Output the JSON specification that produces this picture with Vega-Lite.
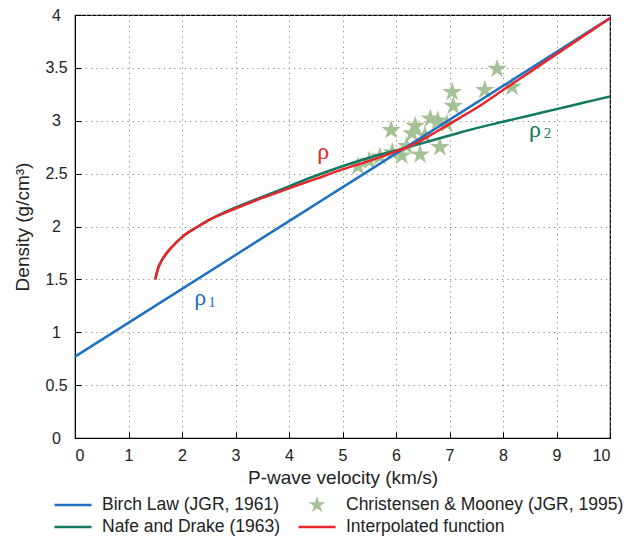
{
  "$schema": "https://vega.github.io/schema/vega-lite/v6.json",
  "width": 535,
  "height": 423,
  "autosize": {"type": "none"},
  "padding": {"left": 75, "top": 15, "right": 17, "bottom": 98},
  "background": "white",
  "config": {
    "view": {"stroke": "black", "strokeWidth": 1.2},
    "axis": {
      "labelFont": "Liberation Sans",
      "labelFontSize": 16,
      "labelColor": "#222",
      "titleFont": "Liberation Sans",
      "titleFontSize": 19,
      "titleFontWeight": "normal",
      "titleColor": "#222",
      "domainColor": "black",
      "tickColor": "black",
      "tickSize": -6,
      "gridColor": "#888",
      "gridDash": [1.2, 4],
      "gridWidth": 1
    },
    "legend": {
      "labelFont": "Liberation Sans", "labelFontSize": 17.5, "labelColor": "#222",
      "orient": "none", "legendX": -22, "legendY": 480, "columns": 2, "direction": "horizontal",
      "columnPadding": 16, "rowPadding": 2, "symbolSize": 1369, "symbolStrokeWidth": 2.5, "labelOffset": 9, "clipHeight": 20, "labelLimit": 400
    }
  },
  "datasets": {
    "birch": [
      {"vp": 0, "rho": 0.77, "series": "Birch Law (JGR, 1961)"},
      {"vp": 10, "rho": 3.97, "series": "Birch Law (JGR, 1961)"}
    ],
    "nafe": [
      {"vp": 1.5, "rho": 1.5, "series": "Nafe and Drake (1963)"},
      {"vp": 1.55, "rho": 1.6, "series": "Nafe and Drake (1963)"},
      {"vp": 1.6, "rho": 1.66, "series": "Nafe and Drake (1963)"},
      {"vp": 1.7, "rho": 1.74, "series": "Nafe and Drake (1963)"},
      {"vp": 1.8, "rho": 1.8, "series": "Nafe and Drake (1963)"},
      {"vp": 2.0, "rho": 1.9, "series": "Nafe and Drake (1963)"},
      {"vp": 2.3, "rho": 2.0, "series": "Nafe and Drake (1963)"},
      {"vp": 2.5, "rho": 2.06, "series": "Nafe and Drake (1963)"},
      {"vp": 3.0, "rho": 2.18, "series": "Nafe and Drake (1963)"},
      {"vp": 3.5, "rho": 2.28, "series": "Nafe and Drake (1963)"},
      {"vp": 4.0, "rho": 2.38, "series": "Nafe and Drake (1963)"},
      {"vp": 4.5, "rho": 2.48, "series": "Nafe and Drake (1963)"},
      {"vp": 5.0, "rho": 2.57, "series": "Nafe and Drake (1963)"},
      {"vp": 5.5, "rho": 2.65, "series": "Nafe and Drake (1963)"},
      {"vp": 6.0, "rho": 2.72, "series": "Nafe and Drake (1963)"},
      {"vp": 6.5, "rho": 2.79, "series": "Nafe and Drake (1963)"},
      {"vp": 7.0, "rho": 2.86, "series": "Nafe and Drake (1963)"},
      {"vp": 7.5, "rho": 2.93, "series": "Nafe and Drake (1963)"},
      {"vp": 8.0, "rho": 2.99, "series": "Nafe and Drake (1963)"},
      {"vp": 8.5, "rho": 3.05, "series": "Nafe and Drake (1963)"},
      {"vp": 9.0, "rho": 3.11, "series": "Nafe and Drake (1963)"},
      {"vp": 9.5, "rho": 3.17, "series": "Nafe and Drake (1963)"},
      {"vp": 10.0, "rho": 3.23, "series": "Nafe and Drake (1963)"}
    ],
    "interp": [
      {"vp": 1.5, "rho": 1.5, "series": "Interpolated function"},
      {"vp": 1.55, "rho": 1.6, "series": "Interpolated function"},
      {"vp": 1.6, "rho": 1.66, "series": "Interpolated function"},
      {"vp": 1.7, "rho": 1.74, "series": "Interpolated function"},
      {"vp": 1.8, "rho": 1.8, "series": "Interpolated function"},
      {"vp": 2.0, "rho": 1.9, "series": "Interpolated function"},
      {"vp": 2.3, "rho": 2.0, "series": "Interpolated function"},
      {"vp": 2.5, "rho": 2.06, "series": "Interpolated function"},
      {"vp": 3.0, "rho": 2.17, "series": "Interpolated function"},
      {"vp": 3.5, "rho": 2.27, "series": "Interpolated function"},
      {"vp": 4.0, "rho": 2.36, "series": "Interpolated function"},
      {"vp": 4.5, "rho": 2.45, "series": "Interpolated function"},
      {"vp": 5.0, "rho": 2.54, "series": "Interpolated function"},
      {"vp": 5.5, "rho": 2.62, "series": "Interpolated function"},
      {"vp": 6.0, "rho": 2.71, "series": "Interpolated function"},
      {"vp": 6.3, "rho": 2.77, "series": "Interpolated function"},
      {"vp": 6.6, "rho": 2.85, "series": "Interpolated function"},
      {"vp": 6.9, "rho": 2.94, "series": "Interpolated function"},
      {"vp": 7.2, "rho": 3.03, "series": "Interpolated function"},
      {"vp": 7.5, "rho": 3.12, "series": "Interpolated function"},
      {"vp": 8.0, "rho": 3.29, "series": "Interpolated function"},
      {"vp": 8.5, "rho": 3.46, "series": "Interpolated function"},
      {"vp": 9.0, "rho": 3.63, "series": "Interpolated function"},
      {"vp": 9.5, "rho": 3.80, "series": "Interpolated function"},
      {"vp": 10.0, "rho": 3.97, "series": "Interpolated function"}
    ],
    "stars": [
      {"vp": 5.29, "rho": 2.57, "series": "Christensen & Mooney (JGR, 1995)"},
      {"vp": 5.5, "rho": 2.62, "series": "Christensen & Mooney (JGR, 1995)"},
      {"vp": 5.7, "rho": 2.66, "series": "Christensen & Mooney (JGR, 1995)"},
      {"vp": 5.91, "rho": 2.91, "series": "Christensen & Mooney (JGR, 1995)"},
      {"vp": 5.93, "rho": 2.70, "series": "Christensen & Mooney (JGR, 1995)"},
      {"vp": 6.11, "rho": 2.67, "series": "Christensen & Mooney (JGR, 1995)"},
      {"vp": 6.2, "rho": 2.76, "series": "Christensen & Mooney (JGR, 1995)"},
      {"vp": 6.3, "rho": 2.88, "series": "Christensen & Mooney (JGR, 1995)"},
      {"vp": 6.36, "rho": 2.95, "series": "Christensen & Mooney (JGR, 1995)"},
      {"vp": 6.45, "rho": 2.68, "series": "Christensen & Mooney (JGR, 1995)"},
      {"vp": 6.54, "rho": 2.86, "series": "Christensen & Mooney (JGR, 1995)"},
      {"vp": 6.64, "rho": 3.02, "series": "Christensen & Mooney (JGR, 1995)"},
      {"vp": 6.82, "rho": 2.75, "series": "Christensen & Mooney (JGR, 1995)"},
      {"vp": 6.78, "rho": 3.0, "series": "Christensen & Mooney (JGR, 1995)"},
      {"vp": 6.95, "rho": 2.97, "series": "Christensen & Mooney (JGR, 1995)"},
      {"vp": 7.05, "rho": 3.27, "series": "Christensen & Mooney (JGR, 1995)"},
      {"vp": 7.07, "rho": 3.14, "series": "Christensen & Mooney (JGR, 1995)"},
      {"vp": 7.66, "rho": 3.29, "series": "Christensen & Mooney (JGR, 1995)"},
      {"vp": 7.89, "rho": 3.49, "series": "Christensen & Mooney (JGR, 1995)"},
      {"vp": 8.17, "rho": 3.32, "series": "Christensen & Mooney (JGR, 1995)"}
    ]
  },
  "encoding": {
    "x": {
      "field": "vp", "type": "quantitative",
      "scale": {"domain": [0, 10], "nice": false},
      "axis": {"title": "P-wave velocity (km/s)", "values": [0,1,2,3,4,5,6,7,8,9,10], "labelPadding": 15, "titlePadding": 5}
    },
    "y": {
      "field": "rho", "type": "quantitative",
      "scale": {"domain": [0, 4], "nice": false},
      "axis": {"title": "Density (g/cm³)", "values": [0,0.5,1,1.5,2,2.5,3,3.5,4], "format": "~g", "labelAlign": "center", "labelPadding": 25, "titlePadding": 12}
    }
  },
  "layer": [
    {
      "data": {"name": "stars"},
      "mark": {"type": "point", "filled": true, "opacity": 1, "size": 420},
      "encoding": {
        "color": {
          "field": "series", "type": "nominal",
          "scale": {"domain": ["Birch Law (JGR, 1961)", "Christensen & Mooney (JGR, 1995)", "Nafe and Drake (1963)", "Interpolated function"],
                    "range": ["#1f70c1", "#a5c196", "#0f7a5f", "#e8262b"]},
          "legend": {"title": null, "encode": {"symbols": {"update": {"size": {"signal": "datum.value === 'Christensen & Mooney (JGR, 1995)' ? 90 : 1369"}}}}}
        },
        "shape": {
          "field": "series", "type": "nominal",
          "scale": {"domain": ["Birch Law (JGR, 1961)", "Christensen & Mooney (JGR, 1995)", "Nafe and Drake (1963)", "Interpolated function"],
                    "range": ["stroke", "M0,-1L0.2245,-0.309L0.951,-0.309L0.363,0.118L0.588,0.809L0,0.382L-0.588,0.809L-0.363,0.118L-0.951,-0.309L-0.2245,-0.309Z", "stroke", "stroke"]},
          "legend": {"title": null, "encode": {"symbols": {"update": {"size": {"signal": "datum.value === 'Christensen & Mooney (JGR, 1995)' ? 90 : 1369"}}}}}
        }
      }
    },
    {
      "data": {"name": "birch"},
      "mark": {"type": "line", "strokeWidth": 2.5},
      "encoding": {"color": {"field": "series", "type": "nominal",
        "scale": {"domain": ["Birch Law (JGR, 1961)", "Christensen & Mooney (JGR, 1995)", "Nafe and Drake (1963)", "Interpolated function"],
                  "range": ["#1f70c1", "#a5c196", "#0f7a5f", "#e8262b"]},
        "legend": {"title": null, "encode": {"symbols": {"update": {"size": {"signal": "datum.value === 'Christensen & Mooney (JGR, 1995)' ? 90 : 1369"}}}}}}}
    },
    {
      "data": {"name": "nafe"},
      "mark": {"type": "line", "strokeWidth": 2.5, "interpolate": "monotone"},
      "encoding": {"color": {"field": "series", "type": "nominal",
        "scale": {"domain": ["Birch Law (JGR, 1961)", "Christensen & Mooney (JGR, 1995)", "Nafe and Drake (1963)", "Interpolated function"],
                  "range": ["#1f70c1", "#a5c196", "#0f7a5f", "#e8262b"]},
        "legend": {"title": null, "encode": {"symbols": {"update": {"size": {"signal": "datum.value === 'Christensen & Mooney (JGR, 1995)' ? 90 : 1369"}}}}}}}
    },
    {
      "data": {"name": "interp"},
      "mark": {"type": "line", "strokeWidth": 2.5, "interpolate": "monotone"},
      "encoding": {"color": {"field": "series", "type": "nominal",
        "scale": {"domain": ["Birch Law (JGR, 1961)", "Christensen & Mooney (JGR, 1995)", "Nafe and Drake (1963)", "Interpolated function"],
                  "range": ["#1f70c1", "#a5c196", "#0f7a5f", "#e8262b"]},
        "legend": {"title": null, "encode": {"symbols": {"update": {"size": {"signal": "datum.value === 'Christensen & Mooney (JGR, 1995)' ? 90 : 1369"}}}}}}}
    },
    {
      "data": {"values": [{"vp": 4.64, "rho": 2.70, "t": "ρ"}]},
      "mark": {"type": "text", "font": "Liberation Serif", "fontSize": 24, "color": "#e8262b"},
      "encoding": {"text": {"field": "t"}}
    },
    {
      "data": {"values": [{"vp": 2.34, "rho": 1.32, "t": "ρ"}]},
      "mark": {"type": "text", "font": "Liberation Serif", "fontSize": 24, "color": "#1f70c1"},
      "encoding": {"text": {"field": "t"}}
    },
    {
      "data": {"values": [{"vp": 2.56, "rho": 1.29, "t": "1"}]},
      "mark": {"type": "text", "font": "Liberation Serif", "fontSize": 15, "color": "#1f70c1"},
      "encoding": {"text": {"field": "t"}}
    },
    {
      "data": {"values": [{"vp": 8.6, "rho": 2.91, "t": "ρ"}]},
      "mark": {"type": "text", "font": "Liberation Serif", "fontSize": 24, "color": "#0f7a5f"},
      "encoding": {"text": {"field": "t"}}
    },
    {
      "data": {"values": [{"vp": 8.83, "rho": 2.88, "t": "2"}]},
      "mark": {"type": "text", "font": "Liberation Serif", "fontSize": 15, "color": "#0f7a5f"},
      "encoding": {"text": {"field": "t"}}
    }
  ]
}
